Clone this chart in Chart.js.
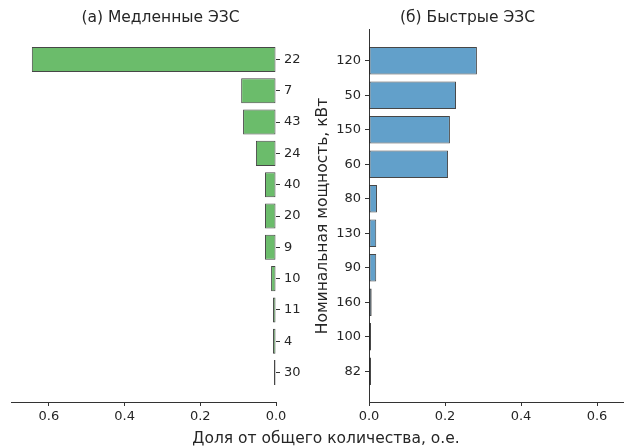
<!DOCTYPE html>
<html>
<head>
<meta charset="utf-8">
<script src="https://cdn.jsdelivr.net/npm/chart.js@4.4.1/dist/chart.umd.min.js"></script>
<style>
  html, body { margin: 0; padding: 0; background: #fff; overflow: hidden; width: 624px; height: 448px; }
  canvas { position: absolute; top: 0; }
  #slow { left: 0; }
  #fast { left: 300px; }
  #xlabel {
    position: absolute; left: 0; width: 652px; top: 428px; text-align: center;
    font: 15.5px "DejaVu Sans"; color: #262626; line-height: 20px;
  }
</style>
</head>
<body>
<canvas id="slow" width="310" height="448"></canvas>
<canvas id="fast" width="340" height="448"></canvas>
<div id="xlabel">Доля от общего количества, о.е.</div>
<script>
// Медленные ЭЗС: номинальная мощность, кВт и доля
const slowLabels = ['22', '7', '43', '24', '40', '20', '9', '10', '11', '4', '30']
const slowShare = [0.645, 0.092, 0.087, 0.053, 0.029, 0.029, 0.029, 0.013, 0.008, 0.008, 0.003]

// Быстрые ЭЗС
const fastLabels = ['120', '50', '150', '60', '80', '130', '90', '160', '100', '82']
const fastShare = [0.284, 0.229, 0.213, 0.208, 0.021, 0.019, 0.019, 0.007, 0.005, 0.003]

const xTicks = [0, 0.2, 0.4, 0.6]
const xMax = 0.7

const tickColor = '#262626'
const lineColor = '#333'
const font = 'DejaVu Sans'

const makeChart = (id, labels, values, opts) => {
    const n = labels.length
    // matplotlib-like margins: bar height 0.8, 5% padding
    const pad = 0.4 + 0.05 * (n - 1 + 0.8)
    return new Chart(document.getElementById(id), {
        type: 'bar',
        data: {
            datasets: [{
                data: values.map((v, i) => ({ x: v, y: i })),
                backgroundColor: opts.fill,
                borderColor: 'rgba(0,0,0,0.72)',
                borderWidth: 1,
                borderSkipped: false,
                minBarLength: 2,
                categoryPercentage: 1,
                barPercentage: 0.8
            }]
        },
        options: {
            indexAxis: 'y',
            responsive: false,
            animation: false,
            layout: { padding: opts.padding },
            plugins: {
                legend: { display: false },
                tooltip: { enabled: false },
                title: {
                    display: true,
                    text: opts.title,
                    color: tickColor,
                    font: { family: font, size: 15.5, weight: 'normal' },
                    padding: { top: 8.7, bottom: 2.7 }
                }
            },
            scales: {
                x: {
                    type: 'linear',
                    min: 0,
                    max: xMax,
                    reverse: opts.reverse,
                    afterBuildTicks: s => { s.ticks = xTicks.map(v => ({ value: v })) },
                    afterFit: s => { s.height = 46 },
                    ticks: {
                        color: tickColor,
                        font: { family: font, size: 13 },
                        padding: 3,
                        maxRotation: 0,
                        callback: v => v.toFixed(1)
                    },
                    grid: { drawOnChartArea: false, tickLength: 4, color: lineColor },
                    border: { display: true, color: lineColor, width: 1 }
                },
                y: {
                    type: 'linear',
                    position: opts.yPos,
                    reverse: true,
                    offset: false,
                    min: -pad,
                    max: n - 1 + pad,
                    afterBuildTicks: s => { s.ticks = labels.map((_, i) => ({ value: i })) },
                    afterFit: s => { s.width = opts.yWidth },
                    ticks: {
                        color: tickColor,
                        font: { family: font, size: 13 },
                        padding: 4,
                        callback: v => labels[v]
                    },
                    grid: { drawOnChartArea: false, offset: false, tickLength: 4, color: lineColor },
                    border: { display: opts.ySpine, color: lineColor, width: 1 },
                    title: {
                        display: !!opts.yTitle,
                        text: opts.yTitle || '',
                        color: tickColor,
                        font: { family: font, size: 15.5 },
                        padding: { top: 13.7, bottom: 0 }
                    }
                }
            }
        }
    })
}

makeChart('slow', slowLabels, slowShare, {
    title: '(а) Медленные ЭЗС',
    fill: 'rgb(107,188,107)',
    reverse: true,
    yPos: 'right',
    yWidth: 34,
    ySpine: false,
    padding: { left: 11, right: 0, top: 0, bottom: 0 }
})

makeChart('fast', fastLabels, fastShare, {
    title: '(б) Быстрые ЭЗС',
    fill: 'rgb(98,160,202)',
    reverse: false,
    yPos: 'left',
    yWidth: 69,
    ySpine: true,
    yTitle: 'Номинальная мощность, кВт',
    padding: { left: 0, right: 5, top: 0, bottom: 0 }
})
</script>
</body>
</html>
